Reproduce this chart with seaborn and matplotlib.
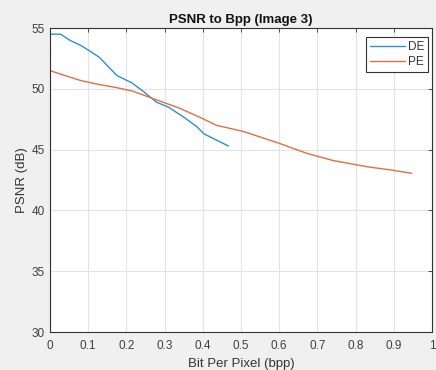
import numpy as np
import pandas as pd
import matplotlib
matplotlib.use("Agg")
import matplotlib.pyplot as plt
import seaborn as sns

# Rate–distortion curves for image 3
de_bpp = [0.0, 0.028, 0.052, 0.079, 0.105, 0.129, 0.175, 0.214, 0.244, 0.279, 0.310, 0.349, 0.384, 0.403, 0.467]
de_psnr = [54.5, 54.5, 54.0, 53.6, 53.1, 52.6, 51.1, 50.5, 49.8, 48.9, 48.5, 47.7, 46.9, 46.3, 45.3]

pe_bpp = [0.0, 0.039, 0.079, 0.122, 0.175, 0.218, 0.270, 0.340, 0.393, 0.436, 0.506, 0.602, 0.672, 0.742, 0.829, 0.899, 0.947]
pe_psnr = [51.5, 51.1, 50.7, 50.4, 50.1, 49.8, 49.2, 48.4, 47.65, 47.0, 46.5, 45.5, 44.7, 44.1, 43.6, 43.3, 43.05]

x_ticks = [0, 0.1, 0.2, 0.3, 0.4, 0.5, 0.6, 0.7, 0.8, 0.9, 1]
y_ticks = [30, 35, 40, 45, 50, 55]

df = pd.concat([
    pd.DataFrame({"bpp": de_bpp, "psnr": de_psnr, "method": "DE"}),
    pd.DataFrame({"bpp": pe_bpp, "psnr": pe_psnr, "method": "PE"}),
], ignore_index=True)

sns.set_theme(style="whitegrid")
plt.rcParams["font.family"] = ["Liberation Sans", "DejaVu Sans"]

fig = plt.figure(figsize=(4.36, 3.70), dpi=100, facecolor="#f0f0f0")
ax = fig.add_axes([0.1147, 0.1027, 0.8763, 0.8213])
ax.set_facecolor("white")

sns.lineplot(data=df, x="bpp", y="psnr", hue="method", sort=False,
             palette={"DE": "#2a8fd6", "PE": "#e0703f"}, linewidth=1.0,
             estimator=None, ax=ax)

ax.set_xlim(0, 1)
ax.set_ylim(30, 55)
ax.set_xticks(x_ticks)
ax.set_xticklabels([f"{t:g}" for t in x_ticks])
ax.set_yticks(y_ticks)
ax.grid(True, color="#e3e3e3", linewidth=0.8)
for s in ax.spines.values():
    s.set_visible(True)
    s.set_color("#333333")
    s.set_linewidth(0.8)
ax.tick_params(direction="in", length=3, width=0.6, colors="#333333",
               labelcolor="#404040", labelsize=8.5, top=True, right=True)
ax.tick_params(axis="x", pad=6)
ax.tick_params(axis="y", pad=4)

ax.set_title("PSNR to Bpp (Image 3)", fontsize=9.5, fontweight="bold", pad=4,
             color="#111111")
ax.set_xlabel("Bit Per Pixel (bpp)", fontsize=9.5, color="#333333", labelpad=4)
ax.set_ylabel("PSNR (dB)", fontsize=9.5, color="#333333", labelpad=2)

leg = ax.legend(loc="upper right", bbox_to_anchor=(0.99, 0.97),
                fontsize=8.5, frameon=True, fancybox=False,
                edgecolor="#333333", framealpha=1, borderaxespad=0.0,
                handlelength=3.0, handletextpad=0.2, labelspacing=0.2,
                borderpad=0.35)
leg.get_frame().set_linewidth(0.8)
for t in leg.get_texts():
    t.set_color("#333333")

fig.savefig("out.png", dpi=100, facecolor=fig.get_facecolor())
